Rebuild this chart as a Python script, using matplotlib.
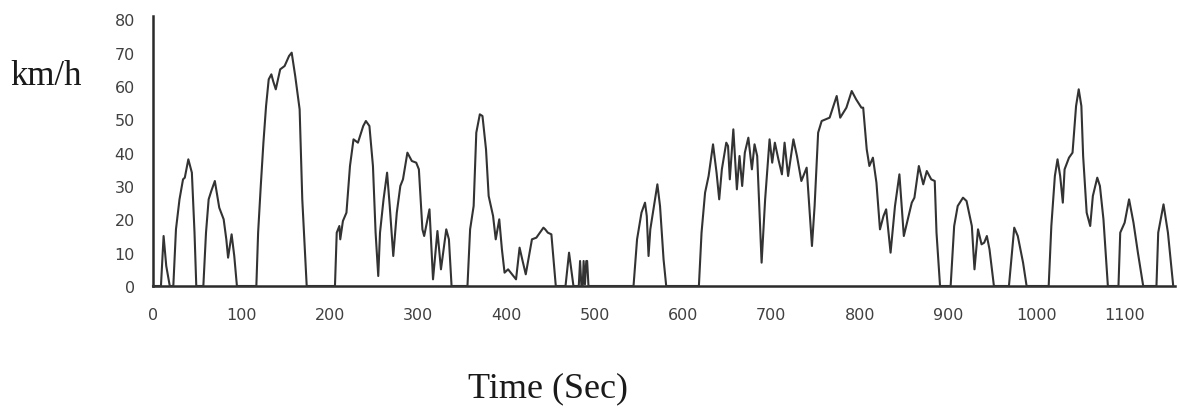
import matplotlib
matplotlib.use("Agg")
import matplotlib.pyplot as plt

# =========================
# DATA
# =========================
time_s = [
    0, 9, 12, 15, 19, 23, 26, 30, 34, 36, 40, 42, 44, 47, 49,
    57, 60, 63, 66, 70, 75, 80, 83, 85, 89, 92, 95,
    117, 119, 122, 125, 128, 131, 134, 136, 139, 144, 149, 154, 157, 161, 166, 169, 174,
    206, 208, 211, 212, 215, 219, 223, 227, 232, 238, 241, 245, 249, 252, 255,
    257, 261, 265, 268, 272, 276, 280, 283, 288, 293, 298, 301, 305, 307, 313, 317,
    322, 326, 332, 335, 338,
    356, 359, 363, 366, 370, 373, 377, 380, 385, 388, 392, 395, 398, 402, 408, 411,
    415, 418, 422, 429, 434, 442, 444, 447, 451, 456,
    467, 471, 476, 482, 483.5, 485, 486.5, 487.5, 489, 490.5, 491.5, 493,
    544, 548, 553, 557, 559, 561, 563, 566, 571, 574, 578, 581,
    618, 621, 625, 629, 634, 638, 641, 644, 649, 651, 653, 657, 659, 661, 664, 667,
    670, 674, 678, 681, 684, 689, 693, 698, 701, 704, 708, 712, 715, 719, 725, 729,
    734, 740, 746, 749, 753, 757, 766, 774, 778, 785, 791, 796, 802, 804, 808, 811,
    815, 819, 823, 827, 830, 835, 840, 845, 850, 859, 862, 867, 872, 876, 881, 885,
    887, 891,
    903, 907, 911, 917, 921, 927, 930, 934, 938, 941, 944, 947, 952,
    969, 975, 979, 985, 989,
    1014, 1017, 1021, 1024, 1027, 1030, 1032, 1037, 1041, 1045, 1048, 1051, 1053,
    1057, 1061, 1064, 1069, 1072, 1076, 1081,
    1093, 1095, 1100, 1105, 1110, 1115, 1121,
    1136, 1138, 1144, 1149, 1155,
]
speed_kmh = [
    0, 0, 15, 6, 0, 0, 17, 26, 32, 32.5, 38, 36, 34, 16, 0,
    0, 16, 26, 28.5, 31.5, 23.5, 20, 14, 8.5, 15.5, 9, 0,
    0, 16, 30, 43, 54, 62, 63.5, 61.5, 59, 65, 66, 69, 70, 63, 53, 26, 0,
    0, 16, 18, 14, 19.5, 22, 36, 44, 43, 48, 49.5, 48, 36, 16, 3,
    16, 26, 34, 24, 9, 22, 30, 32, 40, 37.5, 37, 35, 17, 15, 23, 2,
    16.5, 5, 17, 14, 0,
    0, 17, 24, 46, 51.5, 51, 41, 27, 21, 14, 20, 11, 4, 5, 3, 2,
    11.5, 8, 3.5, 14, 14.5, 17.5, 17, 16, 15.5, 0,
    0, 10, 0, 0, 7.5, 0, 0, 7.5, 0.5, 7.5, 7.5, 0,
    0, 14, 22, 25, 21, 9, 17, 22, 30.5, 24, 8, 0,
    0, 16, 28, 33, 42.5, 34, 26, 35, 43, 42, 32, 47, 38, 29, 39, 30,
    40, 44.5, 35, 42.5, 39, 7, 26, 44, 37, 43, 38, 33.5, 43, 33, 44, 39,
    31.5, 35.5, 12, 24, 46, 49.5, 50.5, 57, 50.5, 53.5, 58.5, 56, 53.5, 53.5, 41, 36,
    38.5, 31, 17, 21, 23, 10, 24, 33.5, 15, 25, 26.5, 36, 30.5, 34.5, 32, 31.5,
    16, 0,
    0, 18, 24, 26.5, 25.5, 18, 5, 17, 12.5, 13, 15, 11, 0,
    0, 17.5, 15, 7, 0,
    0, 18, 33, 38, 33, 25, 35, 38.5, 40, 54, 59, 54, 39,
    22, 18, 27, 32.5, 30, 20, 0,
    0, 16, 19, 26, 19, 10, 0,
    0, 16, 24.5, 16, 0,
]

x_ticks = [0, 100, 200, 300, 400, 500, 600, 700, 800, 900, 1000, 1100]
y_ticks = [0, 10, 20, 30, 40, 50, 60, 70, 80]

# =========================
# FIGURE
# =========================
W, H = 1178, 414
fig = plt.figure(figsize=(W / 100, H / 100), dpi=100)
fig.patch.set_facecolor("white")

# axes box placed in pixel terms of the reference
ax = fig.add_axes([153 / W, (H - 287) / H, (1175 - 153) / W, (287 - 17) / H])

ax.plot(time_s, speed_kmh, color="#333333", lw=1.5, solid_joinstyle="round",
        clip_on=False, zorder=3)

ax.set_xlim(0, 1157)
ax.set_ylim(0, 81)
ax.set_xticks(x_ticks)
ax.set_yticks(y_ticks)

for side in ("top", "right"):
    ax.spines[side].set_visible(False)
for side in ("left", "bottom"):
    ax.spines[side].set_color("#2a2a2a")
    ax.spines[side].set_linewidth(1.8)

ax.tick_params(axis="both", length=0, labelsize=11.5, labelcolor="#404040")
ax.tick_params(axis="y", pad=13)
ax.tick_params(axis="x", pad=15)

# axis titles (serif, placed as in the reference)
serif = ["Liberation Serif", "DejaVu Serif"]
fig.text(10 / W, (H - 85) / H, "km/h", family=serif, fontsize=25,
         ha="left", va="baseline", color="#1a1a1a")
fig.text(548 / W, (H - 397) / H, "Time (Sec)", family=serif, fontsize=26,
         ha="center", va="baseline", color="#1a1a1a")

fig.savefig("out.png", dpi=100)
